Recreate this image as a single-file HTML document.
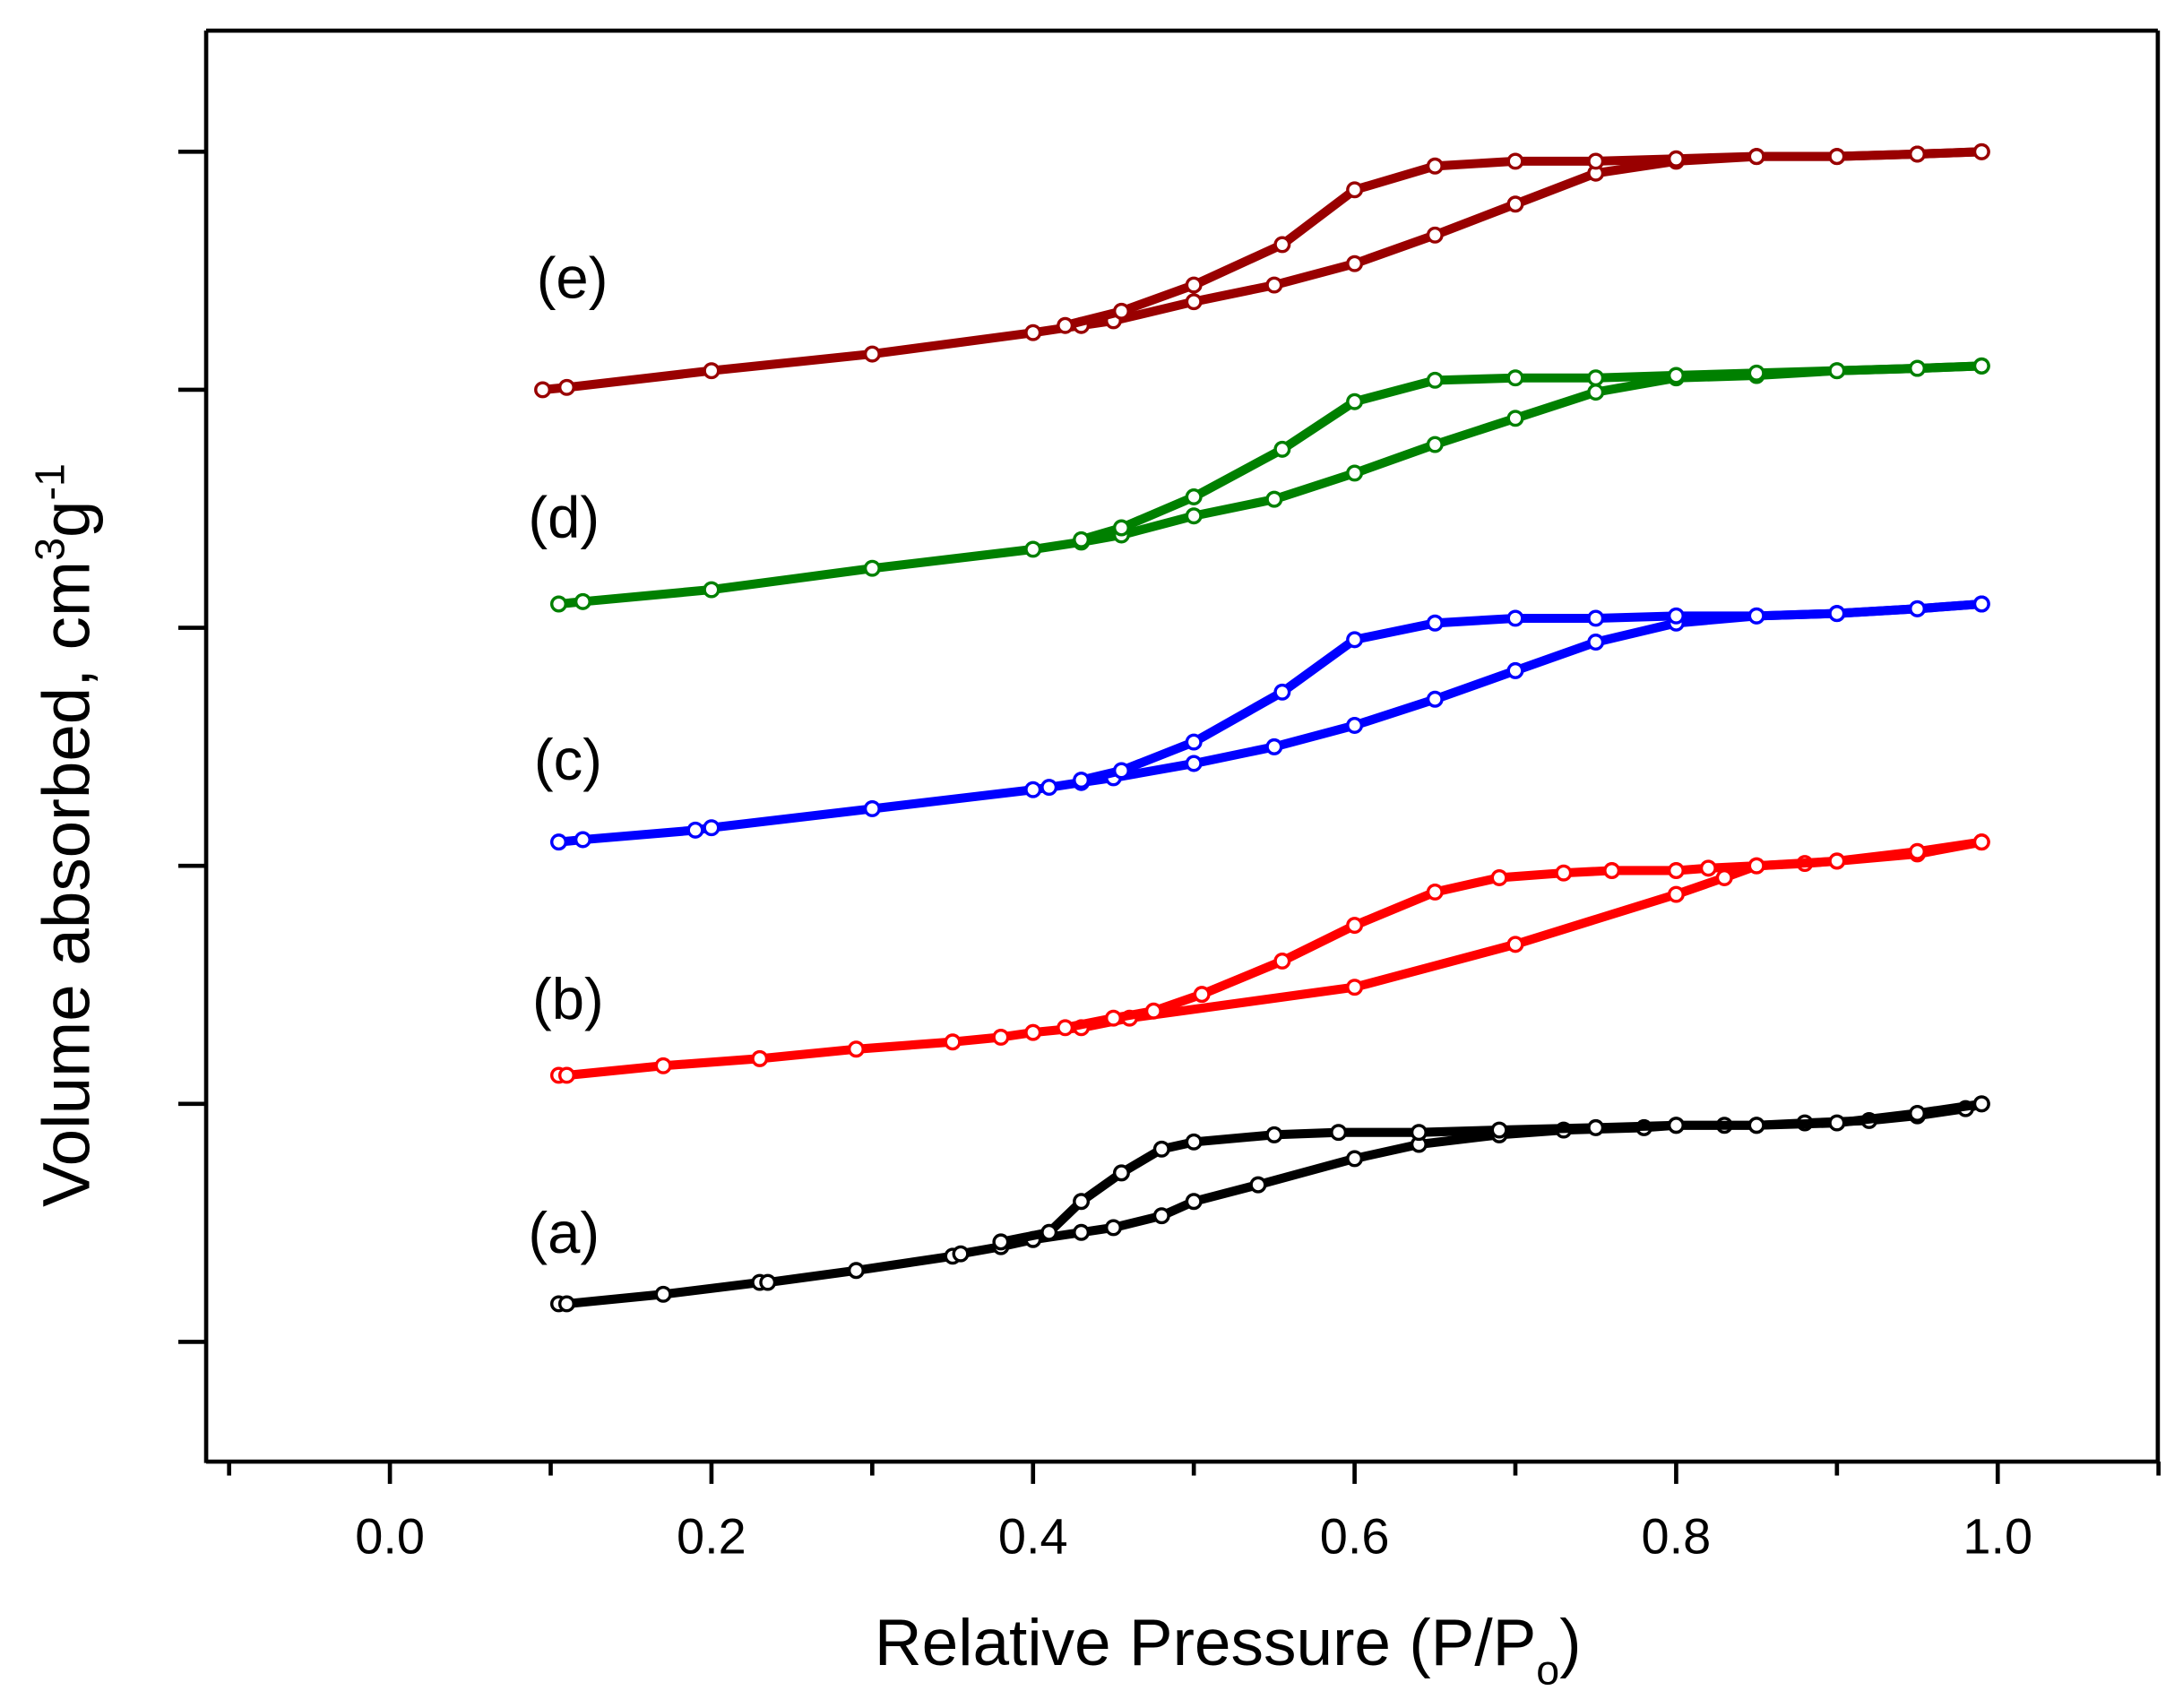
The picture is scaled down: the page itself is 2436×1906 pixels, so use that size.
<!DOCTYPE html>
<html><head><meta charset="utf-8"><style>
html,body{margin:0;padding:0;background:#fff}
svg{display:block}
text{font-family:"Liberation Sans",Arial,sans-serif;fill:#000}
</style></head><body>
<svg id="chart" width="2436" height="1906" viewBox="0 0 1568 1227" xmlns="http://www.w3.org/2000/svg">
<rect x="0" y="0" width="1568" height="1227" fill="#fff"/>
<g id="frame">
<line x1="148" y1="22" x2="148" y2="1051" stroke="#000" stroke-width="3"/>
<line x1="1550" y1="22" x2="1550" y2="1051" stroke="#000" stroke-width="3"/>
<line x1="148" y1="22" x2="1550" y2="22" stroke="#000" stroke-width="3"/>
<line x1="148" y1="1050" x2="1550" y2="1050" stroke="#000" stroke-width="3"/>
</g>
<g id="xticks"></g>
<g id="yticks"></g>
<g id="series"></g>
<text x="405" y="900" font-size="42" text-anchor="middle">(a)</text>
<text x="408" y="732" font-size="42" text-anchor="middle">(b)</text>
<text x="408" y="560" font-size="42" text-anchor="middle">(c)</text>
<text x="405" y="386" font-size="42" text-anchor="middle">(d)</text>
<text x="411" y="214" font-size="42" text-anchor="middle">(e)</text>
<text x="882" y="1196" font-size="47" text-anchor="middle">Relative Pressure (P/P<tspan font-size="30" dy="14">o</tspan><tspan dy="-14">)</tspan></text>
<text transform="translate(64,600) rotate(-90)" font-size="48" text-anchor="middle">Volume absorbed, cm<tspan font-size="30" dy="-18">3</tspan><tspan dy="18">g</tspan><tspan font-size="30" dy="-18">-1</tspan></text>
</svg>
<script>
const xTickVals=[-0.1,0,0.1,0.2,0.3,0.4,0.5,0.6,0.7,0.8,0.9,1.0,1.1];
const xTickLabels=["0.0","0.2","0.4","0.6","0.8","1.0"];
const yTickVals=[0,1,2,3,4,5];
const aAdsX=[0.105,0.11,0.17,0.23,0.235,0.29,0.35,0.355,0.38,0.40,0.43,0.45,0.48,0.50,0.54,0.60,0.64,0.69,0.73,0.78,0.80,0.83,0.85,0.88,0.92,0.95,0.98,0.99];
const aAdsY=[0.16,0.16,0.20,0.25,0.25,0.30,0.36,0.37,0.40,0.43,0.46,0.48,0.53,0.59,0.66,0.77,0.83,0.87,0.89,0.90,0.91,0.91,0.91,0.92,0.93,0.95,0.98,1.00];
const aDesX=[0.99,0.95,0.90,0.85,0.80,0.75,0.69,0.64,0.59,0.55,0.50,0.48,0.455,0.43,0.41,0.38];
const aDesY=[1.00,0.96,0.92,0.91,0.91,0.90,0.89,0.88,0.88,0.87,0.84,0.81,0.71,0.59,0.46,0.42];
const bAdsX=[0.105,0.11,0.17,0.23,0.29,0.35,0.38,0.40,0.43,0.46,0.60,0.70,0.80,0.83,0.85,0.88,0.90,0.95,0.99];
const bAdsY=[1.12,1.12,1.16,1.19,1.23,1.26,1.28,1.30,1.32,1.36,1.49,1.67,1.88,1.95,2.00,2.01,2.02,2.05,2.10];
const bDesX=[0.99,0.95,0.90,0.85,0.82,0.80,0.76,0.73,0.69,0.65,0.60,0.555,0.505,0.475,0.45,0.42];
const bDesY=[2.10,2.06,2.02,2.00,1.99,1.98,1.98,1.97,1.95,1.89,1.75,1.60,1.46,1.39,1.36,1.32];
const cAdsX=[0.105,0.12,0.19,0.20,0.30,0.40,0.41,0.43,0.45,0.50,0.55,0.60,0.65,0.70,0.75,0.80,0.85,0.90,0.95,0.99];
const cAdsY=[2.10,2.11,2.15,2.16,2.24,2.32,2.33,2.35,2.37,2.43,2.50,2.59,2.70,2.82,2.94,3.02,3.05,3.06,3.08,3.10];
const cDesX=[0.99,0.95,0.90,0.85,0.80,0.75,0.70,0.65,0.60,0.555,0.50,0.455,0.43];
const cDesY=[3.10,3.08,3.06,3.05,3.05,3.04,3.04,3.02,2.95,2.73,2.52,2.40,2.36];
const dAdsX=[0.105,0.12,0.20,0.30,0.40,0.43,0.455,0.50,0.55,0.60,0.65,0.70,0.75,0.80,0.85,0.90,0.95,0.99];
const dAdsY=[3.10,3.11,3.16,3.25,3.33,3.36,3.39,3.47,3.54,3.65,3.77,3.88,3.99,4.05,4.06,4.08,4.09,4.10];
const dDesX=[0.99,0.95,0.90,0.85,0.80,0.75,0.70,0.65,0.60,0.555,0.50,0.455,0.43];
const dDesY=[4.10,4.09,4.08,4.07,4.06,4.05,4.05,4.04,3.95,3.75,3.55,3.42,3.37];
const eAdsX=[0.095,0.11,0.20,0.30,0.40,0.43,0.45,0.50,0.55,0.60,0.65,0.70,0.75,0.80,0.85,0.90,0.95,0.99];
const eAdsY=[4.00,4.01,4.08,4.15,4.24,4.27,4.29,4.37,4.44,4.53,4.65,4.78,4.91,4.96,4.98,4.98,4.99,5.00];
const eDesX=[0.99,0.95,0.90,0.85,0.80,0.75,0.70,0.65,0.60,0.555,0.50,0.455,0.42];
const eDesY=[5.00,4.99,4.98,4.98,4.97,4.96,4.96,4.94,4.84,4.61,4.44,4.33,4.27];

const NS="http://www.w3.org/2000/svg";
function xs(v){return 280+1155*v;}
function ys(v){return 964-171*v;}
function mk(tag,attrs,parent){const e=document.createElementNS(NS,tag);for(const k in attrs)e.setAttribute(k,attrs[k]);parent.appendChild(e);return e;}

const xt=document.getElementById('xticks');
xTickVals.forEach((v,i)=>{
  const major=Math.round(v*10)%2===0;
  const t=mk('line',{x1:xs(v),x2:xs(v),y1:1050,y2:major?1066:1060,stroke:'#000','stroke-width':3},xt);
  
  
});
xTickLabels.forEach((lab)=>{
  const t=mk('text',{x:xs(parseFloat(lab)),y:1116,'font-size':36,'text-anchor':'middle'},xt);
  t.textContent=lab;
  
  
});
const yt=document.getElementById('yticks');
yTickVals.forEach(v=>{
  const t=mk('line',{x1:128,x2:148,y1:ys(v),y2:ys(v),stroke:'#000','stroke-width':3},yt);
  
  
});

const sg=document.getElementById('series');
function draw(name,X,Y,color){
  const g=mk('g',{},sg);
  
  
  const pts=X.map((x,i)=>xs(x).toFixed(1)+','+ys(Y[i]).toFixed(1)).join(' ');
  const pl=mk('polyline',{points:pts,fill:'none',stroke:color,'stroke-width':6.5,'stroke-linejoin':'round'},g);
  
  
  X.forEach((x,i)=>{
    const c=mk('circle',{cx:xs(x),cy:ys(Y[i]),r:5,fill:'#fff',stroke:color,'stroke-width':2.2},g);
    
    
  });
}
draw('series-a-adsorption',aAdsX,aAdsY,'#000000');
draw('series-a-desorption',aDesX,aDesY,'#000000');
draw('series-b-adsorption',bAdsX,bAdsY,'#ff0000');
draw('series-b-desorption',bDesX,bDesY,'#ff0000');
draw('series-c-adsorption',cAdsX,cAdsY,'#0000ff');
draw('series-c-desorption',cDesX,cDesY,'#0000ff');
draw('series-d-adsorption',dAdsX,dAdsY,'#008000');
draw('series-d-desorption',dDesX,dDesY,'#008000');
draw('series-e-adsorption',eAdsX,eAdsY,'#990000');
draw('series-e-desorption',eDesX,eDesY,'#990000');
</script>
</body></html>
